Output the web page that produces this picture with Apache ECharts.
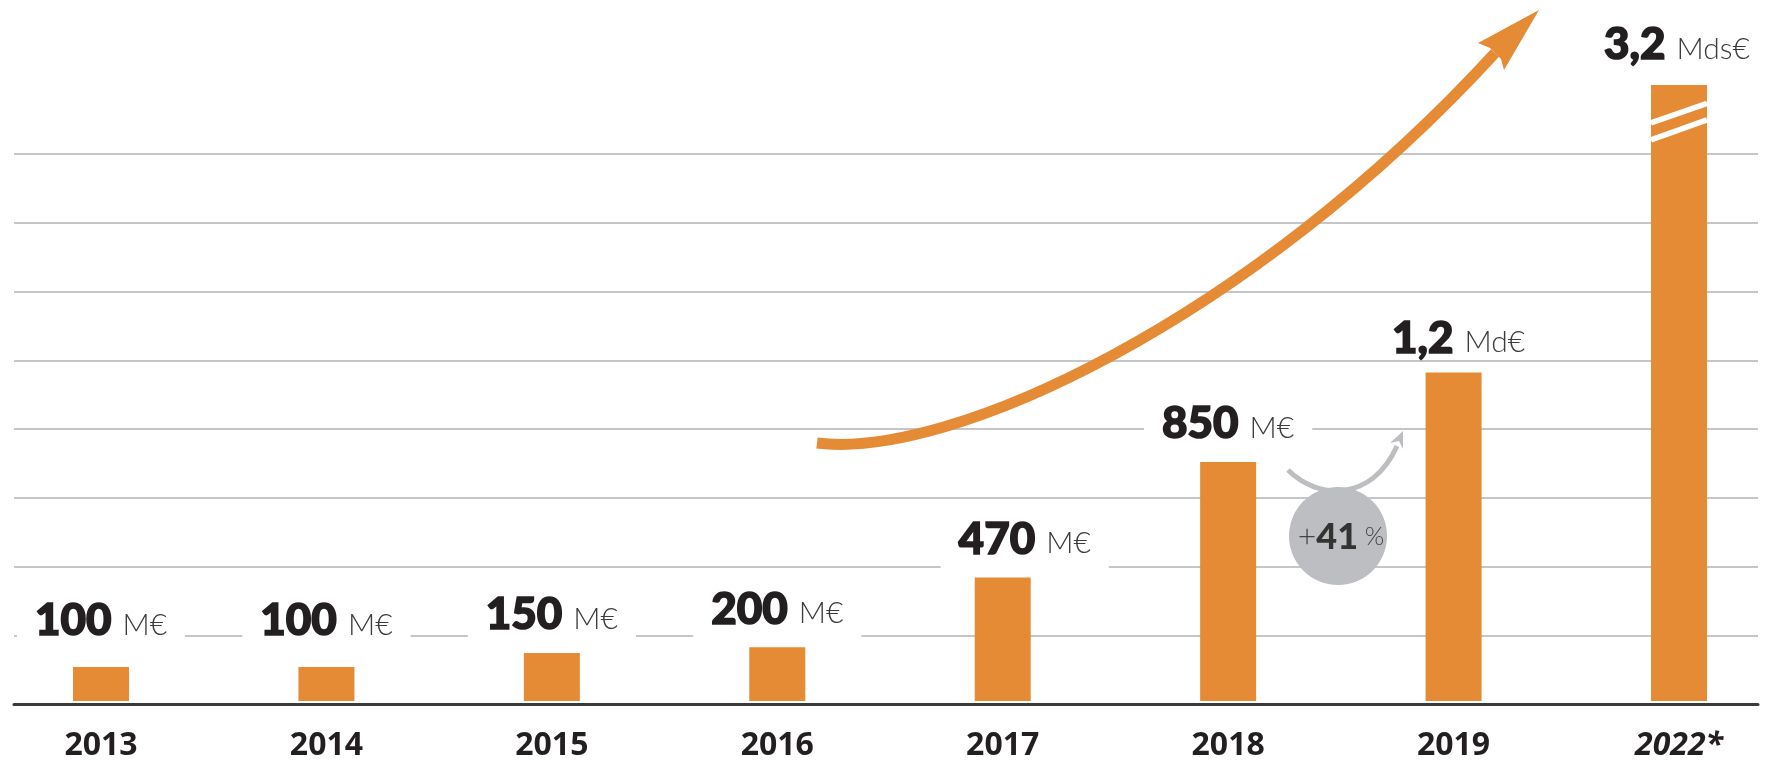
<!DOCTYPE html>
<html>
<head>
<meta charset="utf-8">
<script src="https://cdn.jsdelivr.net/npm/echarts@6/dist/echarts.min.js"></script>
<style>
html, body { margin: 0; padding: 0; background: #fff; }
#main { width: 1767px; height: 762px; }
</style>
</head>
<body>
<div id="main"></div>
<script>
// années sous l'axe
const annees = ['2013', '2014', '2015', '2016', '2017', '2018', '2019', '2022*'];
// montants écrits au-dessus des barres
const montants = ['100', '100', '150', '200', '470', '850', '1,2', '3,2'];
const unites = ['M€', 'M€', 'M€', 'M€', 'M€', 'M€', 'Md€', 'Mds€'];
// hauteur des barres telle que dessinée, en M€ (la barre 2022 est coupée)
const hauteurs = [124, 124, 175, 196, 451, 873, 1200, 2250];
// lignes de fond : 0 -> 2000 M€, pas de 250
const grilleMax = 2000;
const grillePas = 250;
// pastille de croissance 2018 -> 2019
const croissance = ['+', '41', '%'];

const orange = '#e58a35';
const gris = '#bdbec2';

// petits réglages d'étiquettes (décalages)
const labelFix = {
  0: { offset: [0, -8] },
  1: { offset: [0, -8] },
  4: { offset: [22, 0] },
  6: { offset: [5, 4], backgroundColor: 'transparent' },
  7: { offset: [-2, -2], backgroundColor: 'transparent' }
};

let chart = echarts.init(document.getElementById('main'));
chart.setOption({
  animation: false,
  grid: [
    { left: 14, right: 9, top: 154, bottom: 58 },      // lignes de fond + axe
    { left: 101, right: 88, top: 16.5, bottom: 58 }    // barres (centres aux extrémités)
  ],
  xAxis: [
    {
      gridIndex: 0, type: 'value', min: 0, max: 1,
      axisLine: { show: true, lineStyle: { color: '#3a3a3a', width: 3 } },
      axisTick: { show: false }, axisLabel: { show: false }, splitLine: { show: false }
    },
    {
      gridIndex: 1, type: 'category', data: annees, boundaryGap: false,
      axisLine: { show: false }, axisTick: { show: false },
      axisLabel: {
        margin: 29,
        fontFamily: 'Open Sans', fontWeight: 'bold', fontSize: 32, color: '#231f20',
        formatter: (v, i) => i === annees.length - 1 ? '{it|' + v + '}' : v,
        rich: {
          it: { fontFamily: 'Open Sans', fontWeight: 'bold', fontStyle: 'italic', fontSize: 32, color: '#231f20' }
        }
      }
    }
  ],
  yAxis: [
    {
      gridIndex: 0, type: 'value', min: 0, max: grilleMax, interval: grillePas,
      axisLine: { show: false }, axisTick: { show: false }, axisLabel: { show: false },
      splitLine: { show: true, showMinLine: false, lineStyle: { color: '#c5c6c8', width: 2 } }
    },
    { gridIndex: 1, type: 'value', min: 0, max: 2500, show: false }
  ],
  series: [
    {
      type: 'bar',
      xAxisIndex: 1,
      yAxisIndex: 1,
      barWidth: 56,
      itemStyle: { color: orange },
      label: {
        show: true,
        position: 'top',
        distance: 4,
        backgroundColor: '#fff',
        padding: [0, 18, 12, 18],
        formatter: p => '{v|' + montants[p.dataIndex] + '}{u|' + unites[p.dataIndex] + '}',
        rich: {
          v: {
            fontFamily: 'Lato', fontWeight: 900, fontSize: 44, color: '#231f20', lineHeight: 44,
            textBorderColor: '#231f20', textBorderWidth: 1.6
          },
          u: { fontFamily: 'Lato', fontWeight: 300, fontSize: 30, color: '#3b3b3b', lineHeight: 44, padding: [8, 0, 0, 11] }
        }
      },
      data: hauteurs.map((v, i) => ({ value: v, label: labelFix[i] || {} }))
    }
  ]
});

// coupure de la barre 2022, placée d'après la barre elle-même
const last = hauteurs.length - 1;
const top22 = chart.convertToPixel({ gridIndex: 1 }, [last, hauteurs[last]]);
const bx0 = top22[0] - 28, bx1 = top22[0] + 28, by = top22[1];

chart.setOption({
  graphic: [
    // grande flèche orange
    {
      type: 'bezierCurve', z: 5,
      shape: { x1: 817, y1: 443, cpx1: 950, cpy1: 460, cpx2: 1250, cpy2: 320, x2: 1495, y2: 53 },
      style: { fill: null, stroke: orange, lineWidth: 11 }
    },
    {
      type: 'polygon', z: 5,
      shape: { points: [[1539, 10], [1478, 43], [1490, 48], [1501, 59], [1504, 70]] },
      style: { fill: orange }
    },
    // petite flèche grise + pastille
    {
      type: 'bezierCurve', z: 5,
      shape: { x1: 1288, y1: 470, cpx1: 1318, cpy1: 500, cpx2: 1372, cpy2: 502, x2: 1397, y2: 446 },
      style: { fill: null, stroke: gris, lineWidth: 5 }
    },
    {
      type: 'polygon', z: 5,
      shape: { points: [[1403, 431], [1403, 449], [1399, 441], [1390, 443]] },
      style: { fill: gris }
    },
    {
      type: 'circle', z: 6,
      shape: { cx: 1338, cy: 536, r: 49 },
      style: { fill: gris }
    },
    {
      type: 'text', z: 7,
      style: {
        x: 1341, y: 537,
        align: 'center', verticalAlign: 'middle',
        text: '{a|' + croissance[0] + '}{b|' + croissance[1] + '}{c| ' + croissance[2] + '}',
        rich: {
          a: { fontFamily: 'Lato', fontWeight: 300, fontSize: 32, fill: '#444' },
          b: { fontFamily: 'Lato', fontWeight: 900, fontSize: 36, fill: '#333' },
          c: { fontFamily: 'Lato', fontWeight: 300, fontSize: 25, fill: '#444' }
        }
      }
    },
    // traits blancs de coupure
    {
      type: 'line', z: 8,
      shape: { x1: bx0, y1: by + 38, x2: bx1, y2: by + 18.5 },
      style: { stroke: '#fff', lineWidth: 5.5 }
    },
    {
      type: 'line', z: 8,
      shape: { x1: bx0, y1: by + 55, x2: bx1, y2: by + 35 },
      style: { stroke: '#fff', lineWidth: 5.5 }
    }
  ]
});

window.onresize = function () {
  chart.resize();
};
</script>
</body>
</html>
